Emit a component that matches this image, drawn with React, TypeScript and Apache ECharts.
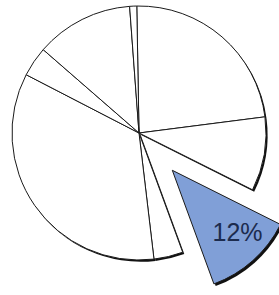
import React, { useEffect, useRef } from "react";
import * as echarts from "echarts";

const categories = ["A", "B", "C", "D", "E", "F", "G", "H"];
const values = [23.2, 9.4, 12, 3.7, 34.4, 3.8, 12.4, 0.9];
const highlighted = "C";
const highlightLabel = "12%";

export default function App() {
  const ref = useRef<HTMLDivElement>(null);
  useEffect(() => {
    if (!ref.current) return;
    const chart = echarts.init(ref.current, null, { renderer: "svg" });
    const blue = "#809fd7";
    const clear = "rgba(0,0,0,0)";
    // kind: which layer; part: "rest" draws all but highlighted, "hi" draws only highlighted
    const mk = (kind: "shadow" | "main" | "label", part: "rest" | "hi" | "all") =>
      categories.map((name, i) => {
        const isHi = name === highlighted;
        const visible = part === "all" ? false : part === "hi" ? isHi : !isHi;
        let color = clear;
        if (visible) {
          if (kind === "shadow") color = "#111111";
          else if (kind === "main") color = isHi ? blue : "#ffffff";
        }
        const itemStyle =
          kind === "main" && visible
            ? { color, borderColor: "#1a1a1a", borderWidth: 1 }
            : { color, borderWidth: 0 };
        return {
          name,
          value: values[i],
          selected: isHi,
          itemStyle,
          select: { itemStyle },
          label:
            kind === "label" && isHi
              ? {
                  show: true,
                  position: "inside",
                  formatter: highlightLabel,
                  fontFamily: "Liberation Sans",
                  fontSize: 25,
                  color: "#1c2b4e",
                }
              : { show: false },
        };
      });
    const base = {
      type: "pie",
      startAngle: 91,
      clockwise: true,
      selectedMode: "single",
      selectedOffset: 50,
      emphasis: { disabled: true },
      labelLine: { show: false },
      silent: true,
    };
    chart.setOption({
      animation: false,
      series: [
        { ...base, z: 1, center: [140.6, 134.8], radius: 127, data: mk("shadow", "rest") },
        { ...base, z: 1, center: [140.8, 135.2], radius: 121, data: mk("shadow", "hi") },
        { ...base, z: 2, center: [139, 133], radius: 127, data: mk("main", "rest") },
        { ...base, z: 2, center: [139, 133], radius: 121, data: mk("main", "hi") },
        { ...base, z: 3, startAngle: 94, center: [139, 133], radius: 174, data: mk("label", "all") },
      ],
    });
    return () => chart.dispose();
  }, []);
  return (
    <div
      ref={ref}
      style={{ position: "fixed", left: 0, top: 0, width: 279, height: 295, background: "#fff" }}
    />
  );
}
